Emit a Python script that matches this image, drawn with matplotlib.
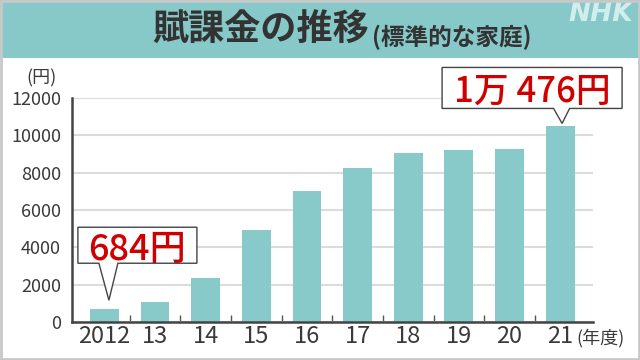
import matplotlib
matplotlib.use("Agg")
import matplotlib.pyplot as plt
from matplotlib.patches import Polygon, Rectangle
from matplotlib.transforms import ScaledTranslation

plt.rcParams['font.family'] = ['Noto Sans CJK JP', 'DejaVu Sans']

# ---- data ----
categories = ["2012", "13", "14", "15", "16", "17", "18", "19", "20", "21"]
values = [684, 1092, 2340, 4920, 7020, 8232, 9048, 9204, 9288, 10476]
yticks = [0, 2000, 4000, 6000, 8000, 10000, 12000]
title = "賦課金の推移"
subtitle = "(標準的な家庭)"
y_unit = "(円)"
x_unit = "(年度)"
callouts = [(0, "684円"), (9, "1万 476円")]

TEAL = "#86c9c8"
BAR = "#88cac9"
DARK = "#3a3a3a"
RED = "#d00000"

W, H = 640, 360
fig = plt.figure(figsize=(6.4, 3.6), dpi=100)
fig.patch.set_facecolor("white")

def fx(px):
    return px / W

def fy(py):
    return 1 - py / H

# title band
fig.patches.append(Rectangle((0, fy(58)), 1, 58 / H, transform=fig.transFigure,
                             facecolor=TEAL, edgecolor="none", zorder=0))
# outer frame
fig.patches.append(Rectangle((0.0015, 0.003), 0.997, 0.994, transform=fig.transFigure,
                             facecolor="none", edgecolor="#c8c8c8", linewidth=2, zorder=5))

t1 = fig.text(fx(152), fy(30), title, fontsize=26, fontweight="bold", color="#333333",
              ha="left", va="center")
renderer = fig.canvas.get_renderer()
bb = t1.get_window_extent(renderer)
fig.text(bb.x1 / W + fx(3), fy(37), subtitle, fontsize=17, fontweight="bold",
         color="#333333", ha="left", va="center")

fig.text(fx(633), fy(14), "NHK", fontsize=19, fontweight="bold", fontstyle="italic",
         family="DejaVu Sans", color="#d2eded", ha="right", va="center")

# axes
ax = fig.add_axes([fx(72), fy(322), fx(593) - fx(72), fy(98) - fy(322)])
x = list(range(len(categories)))
ax.bar(x, values, width=0.57, color=BAR, zorder=3)
ax.set_xlim(-0.64, len(categories) - 1 + 0.65)
ax.set_ylim(0, 12000)
ax.set_yticks(yticks)
ax.set_yticklabels([str(v) for v in yticks])
ax.set_xticks(x)
ax.set_xticklabels(categories)
ax.set_xticks([i + 0.5 for i in x[:-1]], minor=True)
ax.tick_params(axis="x", which="major", length=0, pad=2, labelsize=17, labelcolor=DARK)
ax.tick_params(axis="x", which="minor", direction="in", length=5, width=1, color="#555555")
ax.tick_params(axis="y", length=0, pad=8, labelsize=13, labelcolor=DARK)
ax.grid(axis="y", color="#dcdcdc", linewidth=1.5, zorder=1)
for s in ["top", "right"]:
    ax.spines[s].set_visible(False)
for s in ["left", "bottom"]:
    ax.spines[s].set_color("#444444")
    ax.spines[s].set_linewidth(1.8)
    ax.spines[s].set_zorder(4)

fig.text(fx(41), fy(78), y_unit, fontsize=13, color=DARK, ha="center", va="center")
fig.text(fx(600), fy(338), x_unit, fontsize=13, color=DARK, ha="center", va="center")

# callouts: geometry in pixel offsets relative to bar top
specs = {
    0: dict(dx=4.5, dy=9, box=(-31, 88, 37, 73), base=(-10, 9), ty=40, fs=26),
    9: dict(dx=2, dy=3, box=(-120, 60, 15, 56), base=(-8.5, 7.5), ty=22, fs=25),
}
for idx, label in callouts:
    sp = specs[idx]
    dx, dy = sp["dx"], sp["dy"]
    l, r, b, t = sp["box"]
    bl, br = sp["base"]
    verts = [(l, t), (r, t), (r, b), (br, b), (0, 0), (bl, b), (l, b)]
    verts = [((vx + dx) / 100, (vy + dy) / 100) for vx, vy in verts]
    tr = fig.dpi_scale_trans + ScaledTranslation(x[idx], values[idx], ax.transData)
    poly = Polygon(verts, closed=True, facecolor="white", edgecolor="#444444",
                   linewidth=1, transform=tr, clip_on=False, zorder=6)
    ax.add_patch(poly)
    ax.text(((l + r) / 2 + dx) / 100, (sp["ty"] + dy) / 100, label, transform=tr,
            fontsize=sp["fs"], fontweight="medium", color=RED, ha="center", va="baseline",
            clip_on=False, zorder=7)

fig.savefig("out.png", dpi=100)
